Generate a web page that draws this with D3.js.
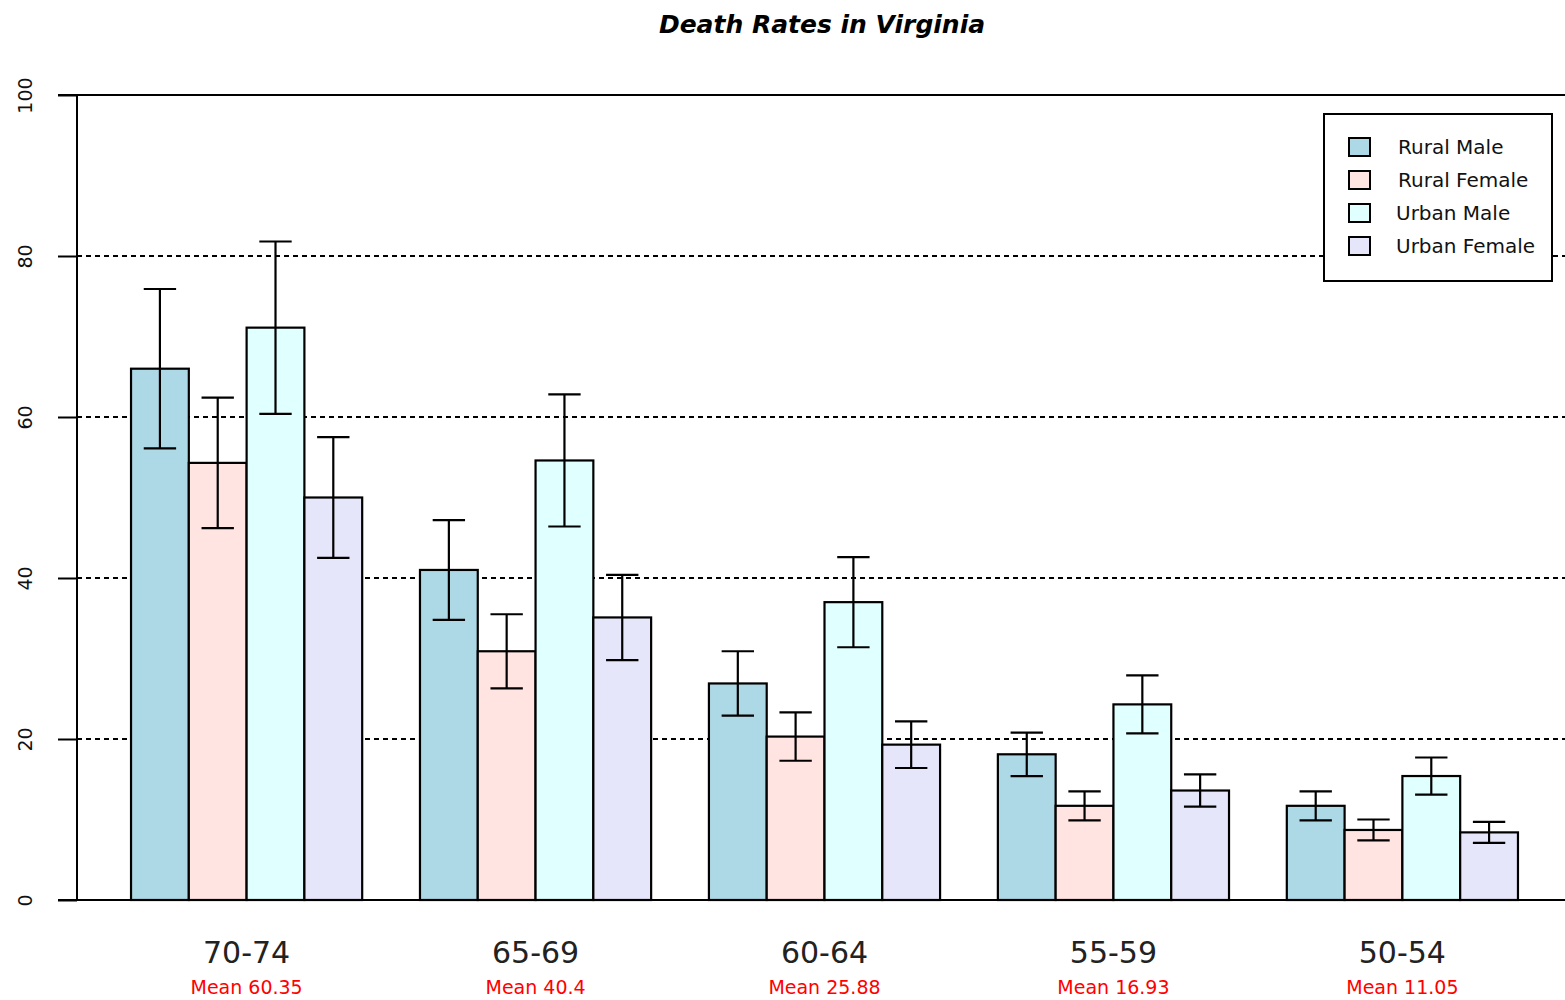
<!DOCTYPE html>
<html>
<head>
<meta charset="utf-8">
<script src="https://cdn.jsdelivr.net/npm/d3@7"></script>
<style>
  html, body { margin: 0; padding: 0; background: #fff; }
  svg { display: block; }
  text { font-family: "DejaVu Sans", "Liberation Sans", sans-serif; }
</style>
</head>
<body>
<svg id="chart" width="1565" height="1000"></svg>
<script>
// Age groups and death rates (per 1000) for each population group
const ageGroups = ["70-74", "65-69", "60-64", "55-59", "50-54"];
const seriesNames = ["Rural Male", "Rural Female", "Urban Male", "Urban Female"];
const ruralMale   = [66.0, 41.0, 26.9, 18.1, 11.7];
const ruralFemale = [54.3, 30.9, 20.3, 11.7, 8.7];
const urbanMale   = [71.1, 54.6, 37.0, 24.3, 15.4];
const urbanFemale = [50.0, 35.1, 19.3, 13.6, 8.4];
// Half-widths of the error bars
const ruralMaleErr   = [9.9, 6.2, 4.0, 2.7, 1.8];
const ruralFemaleErr = [8.1, 4.6, 3.0, 1.8, 1.3];
const urbanMaleErr   = [10.7, 8.2, 5.6, 3.6, 2.3];
const urbanFemaleErr = [7.5, 5.3, 2.9, 2.0, 1.3];
const groupMeans = ["60.35", "40.4", "25.88", "16.93", "11.05"];
const yTicks = [0, 20, 40, 60, 80, 100];
const colors = ["#ADD8E6", "#FFE4E1", "#E0FFFF", "#E6E6FA"];

const values = [ruralMale, ruralFemale, urbanMale, urbanFemale];
const errors = [ruralMaleErr, ruralFemaleErr, urbanMaleErr, urbanFemaleErr];

const svg = d3.select("#chart");
const plotLeft = 77, plotTop = 95, plotBottom = 900, plotRight = 1572;

const y = d3.scaleLinear().domain([0, 100]).range([plotBottom, plotTop]);
const x0 = d3.scaleBand().domain(ageGroups).range([plotLeft, plotRight])
  .paddingInner(0.2).paddingOuter(0.187);
const x1 = d3.scaleBand().domain(seriesNames).range([0, x0.bandwidth()]);

// Title
svg.append("text")
  .attr("x", 822).attr("y", 33)
  .attr("text-anchor", "middle")
  .style("font-size", "25px").style("font-weight", "bold").style("font-style", "italic")
  .text("Death Rates in Virginia");

// Dotted reference lines
svg.append("g").selectAll("line")
  .data(yTicks.filter(d => d > 0 && d < 100))
  .join("line")
  .attr("x1", plotLeft).attr("x2", 1565)
  .attr("y1", d => y(d)).attr("y2", d => y(d))
  .attr("stroke", "#000").attr("stroke-width", 2)
  .attr("stroke-dasharray", "5,4");

// Bars
const groups = svg.append("g").selectAll("g")
  .data(ageGroups)
  .join("g")
  .attr("transform", d => `translate(${x0(d)},0)`);

groups.each(function (age, gi) {
  const g = d3.select(this);
  seriesNames.forEach((s, si) => {
    const v = values[si][gi];
    g.append("rect")
      .attr("x", x1(s)).attr("y", y(v))
      .attr("width", x1.bandwidth()).attr("height", y(0) - y(v))
      .attr("fill", colors[si]).attr("stroke", "#000").attr("stroke-width", 2.2);
  });
  seriesNames.forEach((s, si) => {
    const v = values[si][gi], e = errors[si][gi];
    const cx = x1(s) + x1.bandwidth() / 2;
    const cap = x1.bandwidth() * 0.28;
    const eg = g.append("g").attr("stroke", "#000").attr("stroke-width", 2.2);
    eg.append("line").attr("x1", cx).attr("x2", cx).attr("y1", y(v + e)).attr("y2", y(v - e));
    eg.append("line").attr("x1", cx - cap).attr("x2", cx + cap).attr("y1", y(v + e)).attr("y2", y(v + e));
    eg.append("line").attr("x1", cx - cap).attr("x2", cx + cap).attr("y1", y(v - e)).attr("y2", y(v - e));
  });
});

// Frame: left axis, top and bottom lines
svg.append("line").attr("x1", plotLeft).attr("x2", plotLeft).attr("y1", plotTop).attr("y2", plotBottom)
  .attr("stroke", "#000").attr("stroke-width", 2);
svg.append("line").attr("x1", 58).attr("x2", 1565).attr("y1", plotTop).attr("y2", plotTop)
  .attr("stroke", "#000").attr("stroke-width", 2);
svg.append("line").attr("x1", 58).attr("x2", 1565).attr("y1", plotBottom).attr("y2", plotBottom)
  .attr("stroke", "#000").attr("stroke-width", 2);

// Y axis
const yAxis = d3.axisLeft(y).tickValues(yTicks).tickSize(19).tickPadding(0).tickFormat(d3.format("d"));
const ya = svg.append("g").attr("transform", `translate(${plotLeft},0)`).call(yAxis);
ya.select(".domain").remove();
ya.selectAll(".tick line").attr("stroke", "#000").attr("stroke-width", 2);
ya.selectAll(".tick text")
  .attr("x", null)
  .attr("text-anchor", "middle")
  .attr("transform", "translate(-52,0) rotate(-90)")
  .attr("dy", "0.35em")
  .style("font-size", "19px").attr("fill", "#111");

// Category labels and means
const xa = svg.append("g");
xa.selectAll("text.cat").data(ageGroups).join("text")
  .attr("class", "cat")
  .attr("x", d => x0(d) + x0.bandwidth() / 2).attr("y", 963)
  .attr("text-anchor", "middle")
  .style("font-size", "30px").attr("fill", "#222")
  .text(d => d);
xa.selectAll("text.mean").data(ageGroups).join("text")
  .attr("class", "mean")
  .attr("x", d => x0(d) + x0.bandwidth() / 2).attr("y", 994)
  .attr("text-anchor", "middle")
  .style("font-size", "19px").attr("fill", "#ff0000")
  .text((d, i) => "Mean " + groupMeans[i]);

// Legend
const lg = svg.append("g");
lg.append("rect").attr("x", 1324).attr("y", 114).attr("width", 228).attr("height", 167)
  .attr("fill", "#fff").attr("stroke", "#000").attr("stroke-width", 2);
seriesNames.forEach((s, i) => {
  const cy = 147 + i * 33;
  lg.append("rect").attr("x", 1349).attr("y", cy - 9).attr("width", 21).attr("height", 18)
    .attr("fill", colors[i]).attr("stroke", "#000").attr("stroke-width", 2);
  lg.append("text").attr("x", i < 2 ? 1398 : 1396).attr("y", cy).attr("dy", "0.35em")
    .style("font-size", "20px").attr("fill", "#111").text(s);
});
</script>
</body>
</html>
